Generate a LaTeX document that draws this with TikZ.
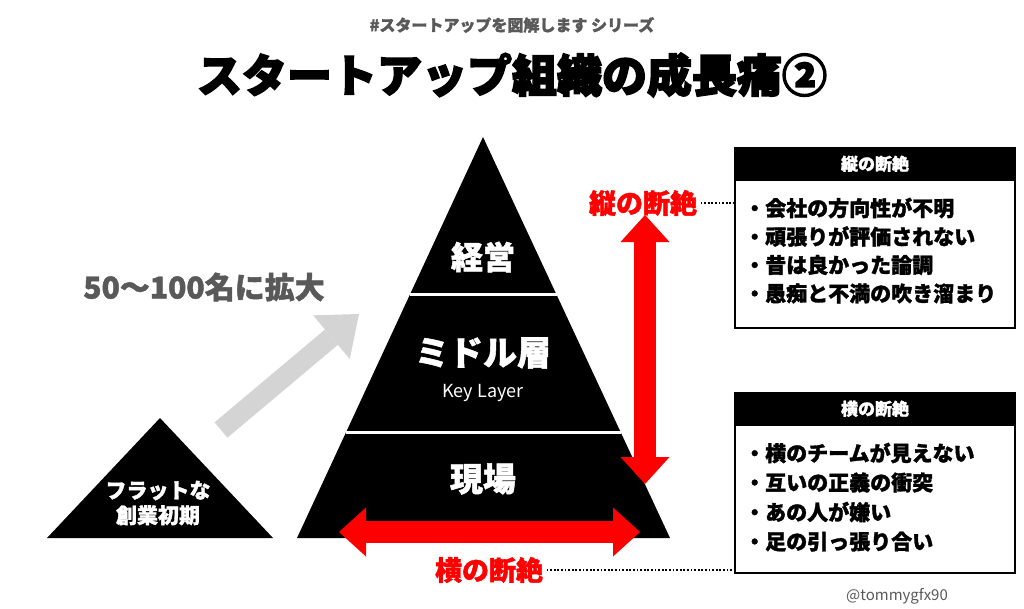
\documentclass[tikz,border=0pt]{standalone}
\usepackage{fontspec}
\newfontfamily\jp{Noto Sans CJK JP}[BoldFeatures={FakeBold=1.5}]
\newfontfamily\jpheavy{Noto Sans CJK JP}[BoldFeatures={FakeBold=3.5}]
\usetikzlibrary{arrows.meta,calc}
\definecolor{textgray}{HTML}{595959}
\definecolor{arrowgray}{HTML}{D4D4D4}
\definecolor{cutred}{HTML}{FF0000}
\newcommand\fs[1]{\fontsize{#1}{#1}\selectfont}

\begin{document}
\begin{tikzpicture}[x=1pt,y=-1pt,font=\jp\bfseries,
  redarrow/.style={draw=cutred,line width=22pt,
    {Triangle[length=27pt,width=49pt,line width=0pt]}-{Triangle[length=27pt,width=49pt,line width=0pt]}},
  dots/.style={line width=1.8pt,dash pattern=on 1.8pt off 1.8pt},
  listbox/.style={draw,line width=2.5pt,minimum width=280pt,minimum height=180pt,inner sep=0pt},
  item/.style={anchor=west,inner sep=0pt,font=\jp\bfseries\fs{21}}]
   \useasboundingbox (0,0) rectangle (1024,608);
   % heading
   \node[text=textgray] (series) at (512,25) {\fs{16}\#スタートアップを図解します シリーズ};
   \node[font=\jpheavy\bfseries] (title) at (512,75) {\fs{45}スタートアップ組織の成長痛②};
   % small pyramid and growth arrow
   \fill (160,418) -- (273,538) -- (47,538) -- cycle;
   \node[text=white,align=center,font=\jp\bfseries\fs{21}] (flat) at (158,503) {フラットな\\[4pt]創業初期};
   \coordinate (growfrom) at (221,430);
   \coordinate (growto) at (359,314);
   \draw[arrowgray,line width=20pt,-{Triangle[length=36pt,width=57pt,line width=0pt]}] (growfrom) -- (growto);
   \node[text=textgray] (grow) at (204,287) {\fs{30}50〜100名に拡大};
   % big pyramid
   \coordinate (top) at (483,137);
   \coordinate (bl) at (297,538);
   \coordinate (br) at (670,538);
   \fill (top) -- (br) -- (bl) -- cycle;
   \foreach \t in {0.394,0.738}
     \draw[white,line width=3pt] ($(top)!\t!(bl)$) -- ($(top)!\t!(br)$);
   \node[text=white] (mgmt) at (483,257) {\fs{32}経営};
   \node[text=white] (middle) at (483,353) {\fs{34}ミドル層};
   \node[text=white,font=\jp] (key) at (483,393) {\fs{18}Key Layer};
   \node[text=white] (field) at (483,479) {\fs{33}現場};
   % the two cuts
   \coordinate (vtop) at (645,215);
   \coordinate (vbot) at (645,484);
   \coordinate (hleft) at (339,532);
   \coordinate (hright) at (640,532);
   \draw[redarrow] (vtop) -- (vbot);
   \draw[redarrow] (hleft) -- (hright);
   \node[text=cutred] (vlabel) at (643,203) {\fs{27}縦の断絶};
   \node[text=cutred] (hlabel) at (489,570) {\fs{27}横の断絶};
   % boxes
   \node[listbox] (vbox) at (875,238) {};
   \node[listbox] (hbox) at (875,483) {};
   \foreach \b in {vbox,hbox}
     \fill (\b.north west) rectangle ($(\b.north east)+(0,34)$);
   \node[text=white] (vhead) at ($(vbox.north)+(0,17)$) {\fs{17}縦の断絶};
   \node[text=white] (hhead) at ($(hbox.north)+(0,17)$) {\fs{17}横の断絶};
   \draw[dots] (vlabel.east) -- (vlabel.east -| vbox.west);
   \draw[dots] (hlabel.east) -- (hlabel.east -| hbox.west);
   \foreach \txt [count=\i] in {会社の方向性が不明,頑張りが評価されない,昔は良かった論調,愚痴と不満の吹き溜まり}
     \node[item] (vitem\i) at (744,{208+28.5*(\i-1)}) {・\txt};
   \foreach \txt [count=\i] in {横のチームが見えない,互いの正義の衝突,あの人が嫌い,足の引っ張り合い}
     \node[item] (hitem\i) at (744,{453+29.5*(\i-1)}) {・\txt};
   \node[text=textgray,font=\jp] (credit) at (897,596) {\fs{15}@tommygfx90};
\end{tikzpicture}
\end{document}
